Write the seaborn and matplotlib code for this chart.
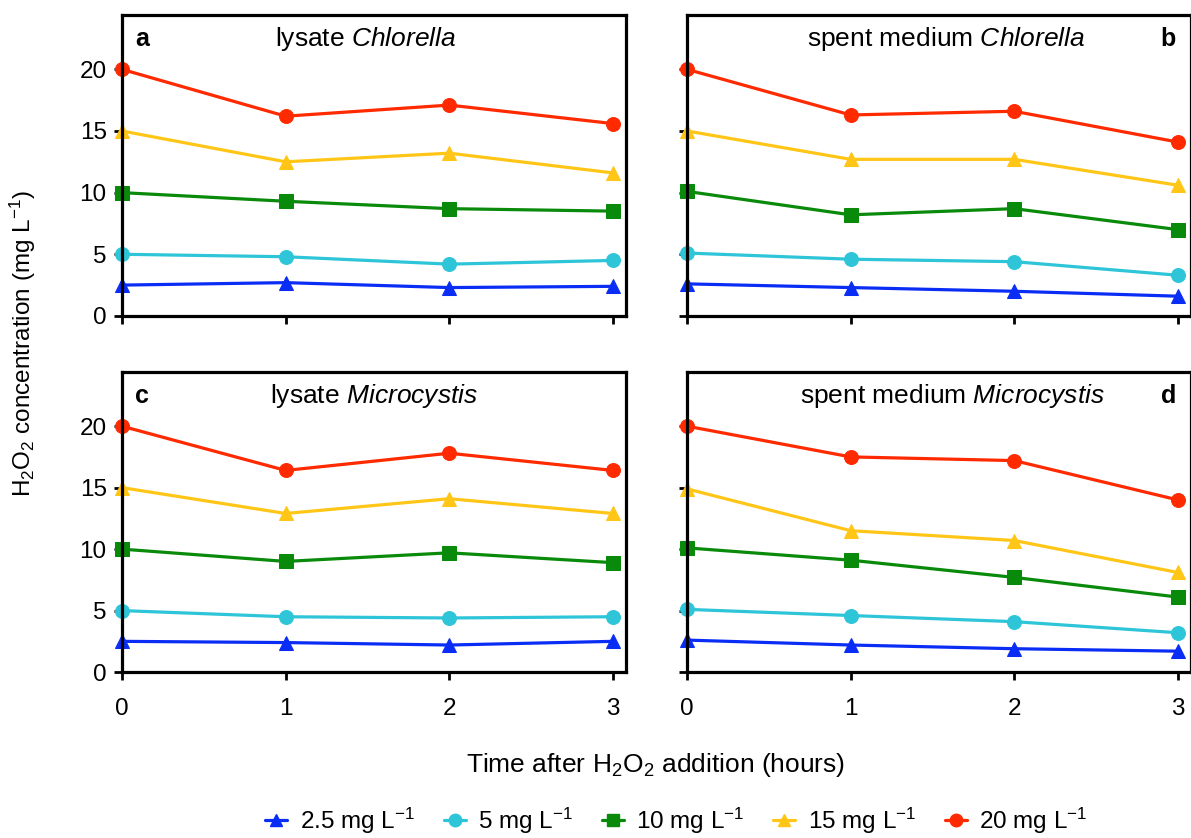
import pandas as pd
import numpy as np
import matplotlib
matplotlib.use('Agg')
import matplotlib.pyplot as plt
import seaborn as sns
from matplotlib.lines import Line2D

# Data
hours = [0, 1, 2, 3]
doses = ['2.5 mg L$^{-1}$', '5 mg L$^{-1}$', '10 mg L$^{-1}$', '15 mg L$^{-1}$', '20 mg L$^{-1}$']

lysate_chlorella = [
    [2.5, 2.7, 2.3, 2.4],
    [5.0, 4.8, 4.2, 4.5],
    [10.0, 9.3, 8.7, 8.5],
    [15.0, 12.5, 13.2, 11.6],
    [20.0, 16.2, 17.1, 15.6],
]
spent_chlorella = [
    [2.6, 2.3, 2.0, 1.6],
    [5.1, 4.6, 4.4, 3.3],
    [10.1, 8.2, 8.7, 7.0],
    [15.0, 12.7, 12.7, 10.6],
    [20.0, 16.3, 16.6, 14.1],
]
lysate_microcystis = [
    [2.5, 2.4, 2.2, 2.5],
    [5.0, 4.5, 4.4, 4.5],
    [10.0, 9.0, 9.7, 8.9],
    [15.0, 12.9, 14.1, 12.9],
    [20.0, 16.4, 17.8, 16.4],
]
spent_microcystis = [
    [2.6, 2.2, 1.9, 1.7],
    [5.1, 4.6, 4.1, 3.2],
    [10.1, 9.1, 7.7, 6.1],
    [14.9, 11.5, 10.7, 8.1],
    [20.0, 17.5, 17.2, 14.0],
]

panels = [
    ('a', 'lysate $\\it{Chlorella}$', lysate_chlorella),
    ('b', 'spent medium $\\it{Chlorella}$', spent_chlorella),
    ('c', 'lysate $\\it{Microcystis}$', lysate_microcystis),
    ('d', 'spent medium $\\it{Microcystis}$', spent_microcystis),
]
title_x = [0.484, 0.514, 0.50, 0.526]

colors = ['#0a2df5', '#2ec5d8', '#0a8a0a', '#ffc617', '#ff2a00']
markers = ['^', 'o', 's', '^', 'o']

sns.set_style('white')
plt.rcParams['font.family'] = ['Liberation Sans', 'DejaVu Sans']
plt.rcParams['mathtext.fontset'] = 'custom'
plt.rcParams['mathtext.rm'] = 'Liberation Sans'
plt.rcParams['mathtext.it'] = 'Liberation Sans:italic'
plt.rcParams['mathtext.bf'] = 'Liberation Sans:bold'
plt.rcParams['text.color'] = 'black'
plt.rcParams['xtick.color'] = 'black'
plt.rcParams['ytick.color'] = 'black'
plt.rcParams['axes.labelcolor'] = 'black'

fig = plt.figure(figsize=(11.91, 8.38), dpi=100)
boxes = [
    [0.1024, 0.623, 0.4232, 0.359],
    [0.5768, 0.623, 0.4232, 0.359],
    [0.1024, 0.198, 0.4232, 0.358],
    [0.5768, 0.198, 0.4232, 0.358],
]

for i, (letter, title, series) in enumerate(panels):
    ax = fig.add_axes(boxes[i])
    for vals, col, mk in zip(series, colors, markers):
        sns.lineplot(x=hours, y=vals, ax=ax, color=col, marker=mk, markersize=10,
                     markeredgecolor=col, linewidth=2.3, legend=False)
    ax.set_xlim(0, 3.08)
    ax.set_ylim(0, 24.4)
    ax.set_xticks(hours)
    ax.set_yticks([0, 5, 10, 15, 20])
    for s in ax.spines.values():
        s.set_linewidth(2.3)
        s.set_color('black')
        s.set_visible(True)
    ax.tick_params(direction='out', length=6, width=2, labelsize=17.5, color='black',
                   labelcolor='black', left=True, bottom=True)
    ax.tick_params(axis='x', pad=13)
    ax.tick_params(axis='y', pad=5)
    if i % 2 == 1:
        ax.set_yticklabels([])
    if i < 2:
        ax.set_xticklabels([])
    ax.set_xlabel('')
    ax.set_ylabel('')
    for line in ax.lines:
        line.set_clip_on(False)
    if i % 2 == 0:
        ax.text(0.026, 0.92, letter, transform=ax.transAxes, fontsize=18, fontweight='bold',
                ha='left', va='center')
    else:
        ax.text(0.955, 0.92, letter, transform=ax.transAxes, fontsize=18, fontweight='bold',
                ha='center', va='center')
    ax.text(title_x[i], 0.92, title, transform=ax.transAxes, fontsize=19,
            ha='center', va='center')

fig.text(0.019, 0.59, 'H$_2$O$_2$ concentration (mg L$^{-1}$)', rotation=90,
         fontsize=17.5, ha='center', va='center')
fig.text(0.55, 0.087, 'Time after H$_2$O$_2$ addition (hours)', fontsize=19,
         ha='center', va='center')

handles = [Line2D([0], [0], color=c, marker=m, markersize=9, linewidth=2.3)
           for c, m in zip(colors, markers)]
fig.legend(handles, doses, loc='center', bbox_to_anchor=(0.568, 0.021), ncol=5,
           frameon=False, fontsize=17.5, handlelength=0.9, columnspacing=1.2, handletextpad=0.5)

fig.savefig('out.png', dpi=100)
